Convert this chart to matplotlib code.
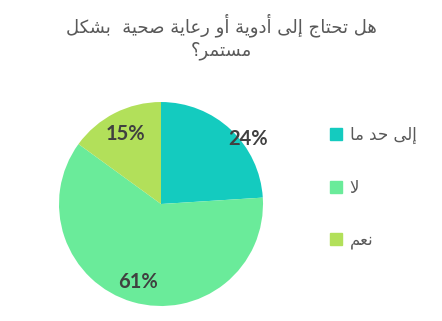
import matplotlib
matplotlib.use("Agg")
import matplotlib.pyplot as plt
from matplotlib.lines import Line2D
import numpy as np

title_lines = ["هل تحتاج إلى أدوية أو رعاية صحية  بشكل", "مستمر؟"]
categories = ["إلى حد ما", "لا", "نعم"]
values = [24, 61, 15]
colors = ["#14CBBF", "#6AEB9A", "#B2E05A"]

# Arabic presentation forms: (isolated, final, initial, medial)
FORMS = {
    "ا": ("\ufe8d", "\ufe8e", None, None),
    "أ": ("\ufe83", "\ufe84", None, None),
    "إ": ("\ufe87", "\ufe88", None, None),
    "ب": ("\ufe8f", "\ufe90", "\ufe91", "\ufe92"),
    "ة": ("\ufe93", "\ufe94", None, None),
    "ت": ("\ufe95", "\ufe96", "\ufe97", "\ufe98"),
    "ج": ("\ufe9d", "\ufe9e", "\ufe9f", "\ufea0"),
    "ح": ("\ufea1", "\ufea2", "\ufea3", "\ufea4"),
    "د": ("\ufea9", "\ufeaa", None, None),
    "ر": ("\ufead", "\ufeae", None, None),
    "س": ("\ufeb1", "\ufeb2", "\ufeb3", "\ufeb4"),
    "ش": ("\ufeb5", "\ufeb6", "\ufeb7", "\ufeb8"),
    "ص": ("\ufeb9", "\ufeba", "\ufebb", "\ufebc"),
    "ع": ("\ufec9", "\ufeca", "\ufecb", "\ufecc"),
    "ك": ("\ufed9", "\ufeda", "\ufedb", "\ufedc"),
    "ل": ("\ufedd", "\ufede", "\ufedf", "\ufee0"),
    "م": ("\ufee1", "\ufee2", "\ufee3", "\ufee4"),
    "ن": ("\ufee5", "\ufee6", "\ufee7", "\ufee8"),
    "ه": ("\ufee9", "\ufeea", "\ufeeb", "\ufeec"),
    "و": ("\ufeed", "\ufeee", None, None),
    "ى": ("\ufeef", "\ufef0", None, None),
    "ي": ("\ufef1", "\ufef2", "\ufef3", "\ufef4"),
}
LAM_ALEF = {"ا": ("\ufefb", "\ufefc"), "أ": ("\ufef7", "\ufef8"), "إ": ("\ufef9", "\ufefa")}


def shape(text):
    out = []
    i = 0
    n = len(text)
    while i < n:
        c = text[i]
        if c not in FORMS:
            out.append(c)
            i += 1
            continue
        prev = text[i - 1] if i > 0 else ""
        joins_prev = prev in FORMS and FORMS[prev][2] is not None
        if c == "ل" and i + 1 < n and text[i + 1] in LAM_ALEF:
            out.append(LAM_ALEF[text[i + 1]][1 if joins_prev else 0])
            i += 2
            continue
        nxt = text[i + 1] if i + 1 < n else ""
        joins_next = nxt in FORMS and FORMS[c][2] is not None
        iso, fin, ini, med = FORMS[c]
        if joins_prev and joins_next:
            out.append(med)
        elif joins_prev:
            out.append(fin)
        elif joins_next:
            out.append(ini)
        else:
            out.append(iso)
        i += 1
    return "".join(reversed(out))


fig = plt.figure(figsize=(4.42, 3.21), dpi=100)
fig.patch.set_facecolor("white")

fig.text(0.5, 0.885, "\n".join(shape(t) for t in title_lines), ha="center", va="center",
         fontsize=13, color="#595959", family="DejaVu Sans", linespacing=1.3)

ax = fig.add_axes([0.1335, 0.0467, 0.4615, 0.6355])
wedges, _ = ax.pie(values, colors=colors, startangle=90, counterclock=False,
                   wedgeprops=dict(linewidth=0))
ax.set_xlim(-1, 1)
ax.set_ylim(-1, 1)
ax.set_aspect("equal")

label_dist = [1.06, 0.8, 0.77]
angle_shift = [-10, 0, 0]
for w, v, d, s in zip(wedges, values, label_dist, angle_shift):
    ang = np.deg2rad((w.theta1 + w.theta2) / 2 + s)
    ax.text(d * np.cos(ang), d * np.sin(ang), f"{v}%", ha="center", va="center",
            fontsize=14.5, fontweight="bold", color="#404040", family="Lato")

handles = [Line2D([], [], marker="s", linestyle="none", markersize=9,
                  markerfacecolor=c, markeredgecolor=c) for c in colors]
ax.legend(handles, [shape(c) for c in categories], loc="center left",
          bbox_to_anchor=(0.748, 0.415), bbox_transform=fig.transFigure,
          frameon=False, handlelength=0.7, handletextpad=0.45, labelspacing=2.05,
          prop=dict(family="DejaVu Sans", size=12), labelcolor="#595959",
          borderpad=0, borderaxespad=0)

fig.savefig("out.png", dpi=100, facecolor="white")
